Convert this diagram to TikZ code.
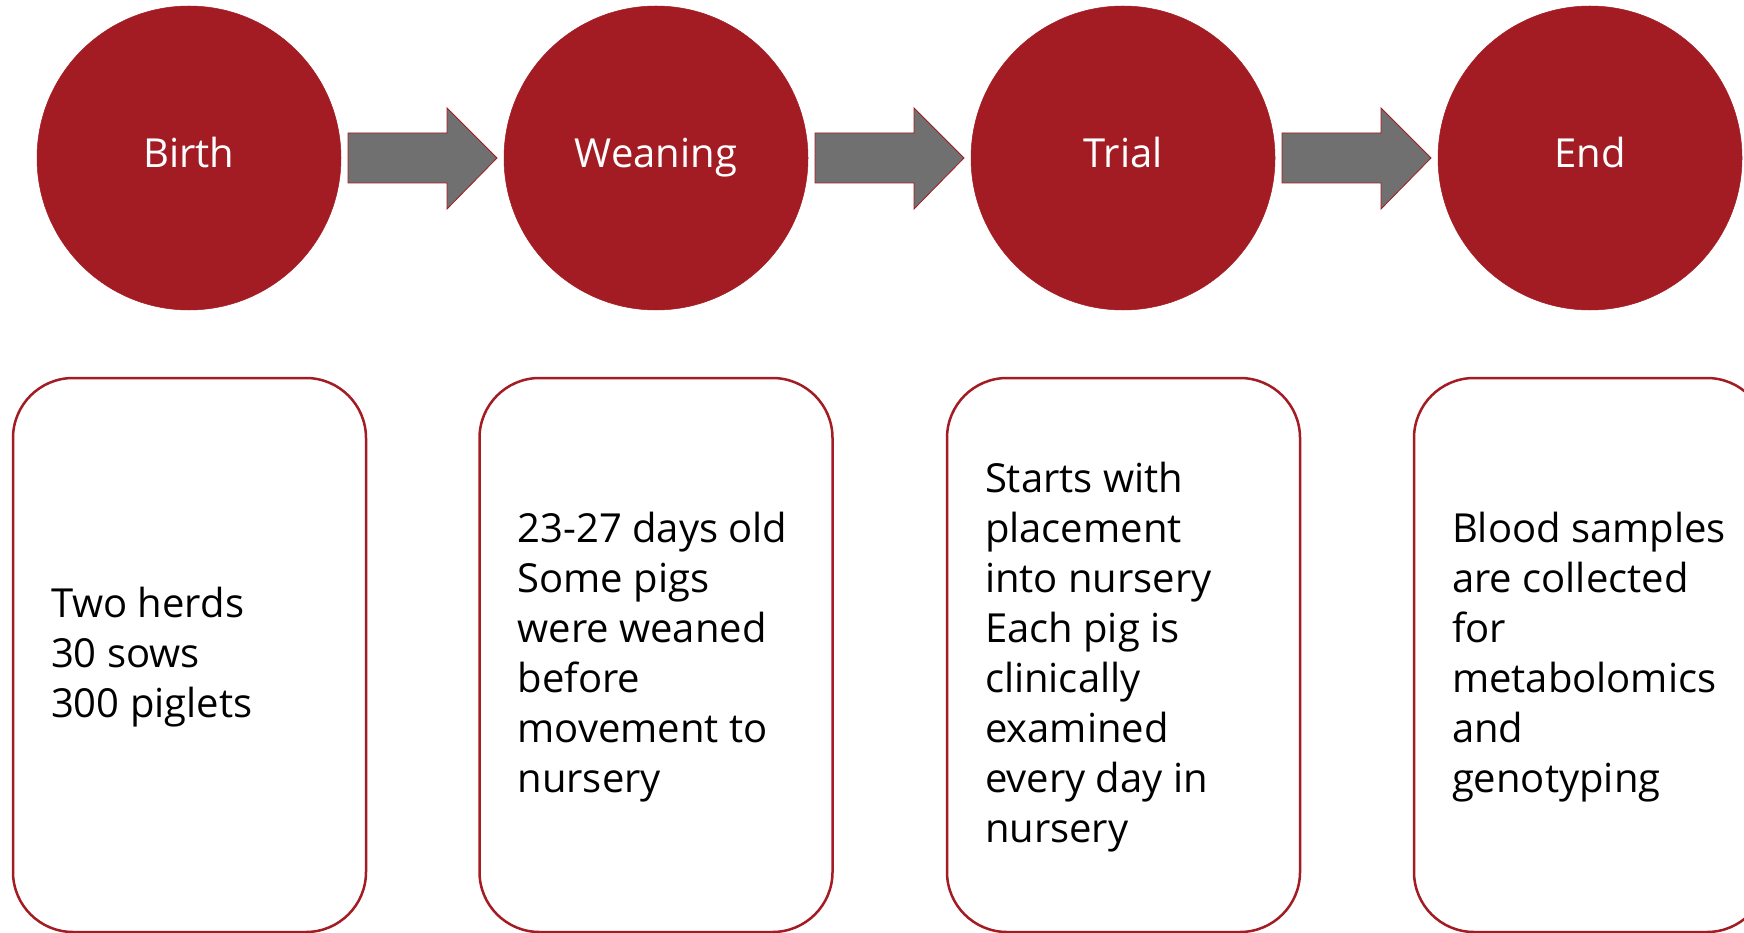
\documentclass[tikz,border=0pt]{standalone}
\usepackage{fontspec}
\setmainfont{Open Sans}
\usetikzlibrary{calc}
\definecolor{cred}{RGB}{163,28,35}
\definecolor{cgray}{RGB}{112,112,112}
\begin{document}
\begin{tikzpicture}[x=1pt,y=-1pt,
  stage/.style={circle, fill=cred, draw=cred, line width=0.5pt, minimum size=304pt, inner sep=0pt, outer sep=0pt,
    text=white, font=\fontsize{40}{48}\selectfont, text height=30pt, text depth=10pt},
  card/.style={draw=cred, line width=2.5pt, rounded corners=60pt, minimum width=353pt, minimum height=554pt,
    inner sep=0pt, outer sep=0pt, fill=white},
  cardtext/.style={anchor=base west, inner sep=0pt, outer sep=0pt, text=black, font=\fontsize{40}{50}\selectfont},
  blockarrow/.style={fill=cgray, draw=cred, line width=0.8pt, line join=miter}]
\useasboundingbox (0,0) rectangle (1744,933);
\clip (0,0) rectangle (1744,933);
\fill[white] (0,0) rectangle (1744,933);
% stages
\node[stage] (c1) at (189,158) {Birth};
\node[stage] (c2) at (656,158) {Weaning};
\node[stage] (c3) at (1123,158) {Trial};
\node[stage] (c4) at (1590,158) {End};
% block arrows
\foreach \a/\b in {c1/c2,c2/c3,c3/c4}{
  \draw[blockarrow] ($(\a.east)+(7,-25)$) -- ($(\a.east)+(106,-25)$) -- ($(\a.east)+(106,-50)$)
    -- ($(\b.west)+(-7,0)$) -- ($(\a.east)+(106,51)$) -- ($(\a.east)+(106,25)$)
    -- ($(\a.east)+(7,25)$) -- cycle;
}
% cards
\node[card] (b1) at (189.5,655) {};
\node[card] (b2) at (656,655) {};
\node[card] (b3) at (1123.5,655) {};
\node[card] (b4) at (1590.5,655) {};
\node[cardtext] (t1) at ($(b1.north west)+(38,239)$) {\parbox[t]{320pt}{\raggedright Two herds\\30 sows\\300 piglets}};
\node[cardtext] (t2) at ($(b2.north west)+(38,164)$) {\parbox[t]{320pt}{\raggedright 23-27 days old\\Some pigs\\were weaned\\before\\movement to\\nursery}};
\node[cardtext] (t3) at ($(b3.north west)+(38,114)$) {\parbox[t]{320pt}{\raggedright Starts with\\placement\\into nursery\\Each pig is\\clinically\\examined\\every day in\\nursery}};
\node[cardtext] (t4) at ($(b4.north west)+(38,164)$) {\parbox[t]{320pt}{\raggedright Blood samples\\are collected\\for\\metabolomics\\and\\genotyping}};
\end{tikzpicture}
\end{document}
